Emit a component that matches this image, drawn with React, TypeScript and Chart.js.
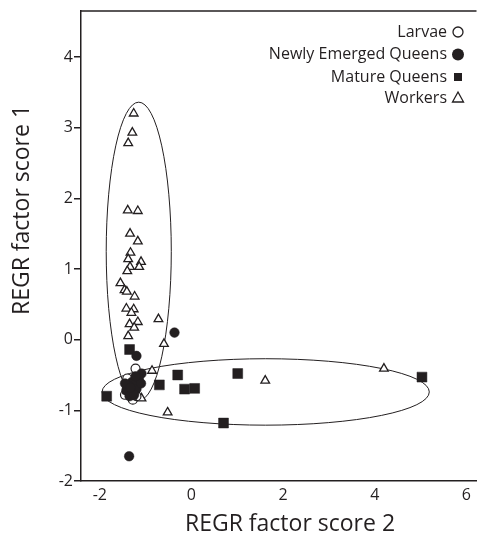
import React, { useEffect, useRef } from "react";
import { Chart, registerables } from "chart.js";

Chart.register(...registerables);

const xTickValues = [-2, 0, 2, 4, 6];
const yTickValues = [-2, -1, 0, 1, 2, 3, 4];

const seriesNames = ["Larvae", "Newly Emerged Queens", "Mature Queens", "Workers"];

const larvaeX = [-1.22, -1.28, -1.4, -1.15, -1.32, -1.45, -1.2];
const larvaeY = [-0.41, -0.85, -0.55, -0.62, -0.7, -0.78, -0.8];

const newQueensX = [-0.37, -1.2, -1.36, -1.09, -1.15, -1.3, -1.38, -1.42, -1.3, -1.2, -1.35, -1.25, -1.1, -1.45, -1.22, -1.33];
const newQueensY = [0.1, -0.23, -1.65, -0.48, -0.55, -0.6, -0.65, -0.72, -0.75, -0.7, -0.8, -0.78, -0.62, -0.62, -0.52, -0.68];

const matureQueensX = [-1.35, -1.85, -0.7, -0.3, -0.15, 0.07, 1.01, 0.7, 5.03, -1.4, -1.28, -1.3];
const matureQueensY = [-0.14, -0.8, -0.64, -0.5, -0.7, -0.69, -0.48, -1.18, -0.53, -0.7, -0.66, -0.78];

const workersX = [-1.26, -1.29, -1.38, -1.39, -1.17, -1.34, -1.17, -1.33, -1.38, -1.1, -1.34, -1.14, -1.4, -1.55, -1.46, -1.41, -1.24, -1.42, -1.26, -1.31, -1.17, -1.35, -1.25, -0.72, -1.38, -0.6, -0.86, -1.09, -0.52, 1.61, 4.2];
const workersY = [3.2, 2.93, 2.78, 1.83, 1.82, 1.5, 1.39, 1.23, 1.14, 1.1, 1.03, 1.03, 0.97, 0.8, 0.7, 0.68, 0.61, 0.44, 0.43, 0.38, 0.25, 0.22, 0.17, 0.29, 0.05, -0.06, -0.44, -0.83, -1.03, -0.58, -0.41];

const ellipseCenterX = [-1.15, 1.62];
const ellipseCenterY = [1.25, -0.74];
const ellipseRadiusX = [0.71, 3.57];
const ellipseRadiusY = [2.11, 0.47];

const xTitle = "REGR factor score 2";
const yTitle = "REGR factor score 1";

const INK = "#231f20";
const FONT = "'Open Sans', 'Noto Sans', sans-serif";

const toPoints = (xs: number[], ys: number[]) => xs.map((x, i) => ({ x, y: ys[i] }));

const extrasPlugin = {
  id: "extras",
  beforeDatasetsDraw(chart: any) {
    const { ctx, scales } = chart;
    const xs = scales.x;
    const ys = scales.y;
    ctx.save();
    ctx.strokeStyle = INK;
    ctx.lineWidth = 1;
    for (let i = 0; i < ellipseCenterX.length; i++) {
      const cx = xs.getPixelForValue(ellipseCenterX[i]);
      const cy = ys.getPixelForValue(ellipseCenterY[i]);
      const rx = Math.abs(xs.getPixelForValue(ellipseCenterX[i] + ellipseRadiusX[i]) - cx);
      const ry = Math.abs(ys.getPixelForValue(ellipseCenterY[i] + ellipseRadiusY[i]) - cy);
      ctx.beginPath();
      ctx.ellipse(cx, cy, rx, ry, 0, 0, Math.PI * 2);
      ctx.stroke();
    }
    ctx.restore();
  },
  afterDraw(chart: any) {
    const { ctx, chartArea } = chart;
    ctx.save();
    // top frame line
    ctx.strokeStyle = INK;
    ctx.lineWidth = 1.5;
    ctx.beginPath();
    ctx.moveTo(chartArea.left, chartArea.top);
    ctx.lineTo(chartArea.right, chartArea.top);
    ctx.stroke();

    // axis titles
    ctx.fillStyle = INK;
    ctx.font = `23px ${FONT}`;
    ctx.textAlign = "center";
    ctx.textBaseline = "middle";
    ctx.fillText(xTitle, 290, 524);
    ctx.save();
    ctx.translate(22, 210);
    ctx.rotate(-Math.PI / 2);
    ctx.fillText(yTitle, 0, 0);
    ctx.restore();

    // legend
    const rowY = [32, 54.5, 77, 98];
    const textRight = 447;
    const symX = 458;
    ctx.font = `16px ${FONT}`;
    ctx.textAlign = "right";
    ctx.textBaseline = "middle";
    seriesNames.forEach((name, i) => {
      const y = rowY[i];
      ctx.fillStyle = INK;
      ctx.fillText(name, textRight, y);
      ctx.lineWidth = 1.3;
      ctx.strokeStyle = INK;
      ctx.beginPath();
      if (i === 0) {
        ctx.arc(symX, y, 5, 0, Math.PI * 2);
        ctx.fillStyle = "#fff";
        ctx.fill();
        ctx.stroke();
      } else if (i === 1) {
        ctx.arc(symX, y, 6, 0, Math.PI * 2);
        ctx.fillStyle = INK;
        ctx.fill();
      } else if (i === 2) {
        ctx.fillStyle = INK;
        ctx.fillRect(symX - 4, y - 4, 8, 8);
      } else {
        ctx.moveTo(symX, y - 6);
        ctx.lineTo(symX + 5.5, y + 4);
        ctx.lineTo(symX - 5.5, y + 4);
        ctx.closePath();
        ctx.fillStyle = "#fff";
        ctx.fill();
        ctx.stroke();
      }
    });
    ctx.restore();
  },
};

export default function App() {
  const canvasRef = useRef<HTMLCanvasElement | null>(null);

  useEffect(() => {
    const canvas = canvasRef.current;
    if (!canvas) return;
    const chart = new Chart(canvas, {
      type: "scatter",
      data: {
        datasets: [
          {
            label: seriesNames[1],
            data: toPoints(newQueensX, newQueensY),
            pointStyle: "circle",
            pointRadius: 4.8,
            backgroundColor: INK,
            borderColor: INK,
            borderWidth: 0.5,
          },
          {
            label: seriesNames[2],
            data: toPoints(matureQueensX, matureQueensY),
            pointStyle: "rect",
            pointRadius: 7,
            backgroundColor: INK,
            borderColor: INK,
            borderWidth: 0.5,
          },
          {
            label: seriesNames[0],
            data: toPoints(larvaeX, larvaeY),
            pointStyle: "circle",
            pointRadius: 4.5,
            backgroundColor: "#fff",
            borderColor: INK,
            borderWidth: 1.2,
          },
          {
            label: seriesNames[3],
            data: toPoints(workersX, workersY),
            pointStyle: "triangle",
            pointRadius: 5,
            backgroundColor: "#fff",
            borderColor: INK,
            borderWidth: 1.3,
          },
        ],
      },
      options: {
        responsive: false,
        animation: false,
        events: [],
        layout: { padding: { top: 11, right: 6, left: 0, bottom: 0 } },
        plugins: {
          legend: { display: false },
          tooltip: { enabled: false },
        },
        scales: {
          x: {
            type: "linear",
            min: -2.41,
            max: 6.22,
            afterBuildTicks: (axis: any) => {
              axis.ticks = xTickValues.map((v) => ({ value: v }));
            },
            afterFit: (s: any) => {
              s.height = 55;
            },
            grid: { display: false, drawTicks: false },
            border: { display: true, color: INK, width: 1.5 },
            ticks: {
              color: INK,
              font: { family: FONT, size: 16 },
              padding: 5,
              maxRotation: 0,
              autoSkip: false,
            },
            title: { display: false },
          },
          y: {
            type: "linear",
            min: -2,
            max: 4.65,
            afterBuildTicks: (axis: any) => {
              axis.ticks = yTickValues.map((v) => ({ value: v }));
            },
            afterFit: (s: any) => {
              s.width = 81;
            },
            grid: {
              drawOnChartArea: false,
              drawTicks: true,
              tickLength: 7,
              color: INK,
              lineWidth: 1.5,
            },
            border: { display: true, color: INK, width: 1.5 },
            ticks: {
              color: INK,
              font: { family: FONT, size: 16 },
              padding: 1,
              autoSkip: false,
            },
            title: { display: false },
          },
        },
      },
      plugins: [extrasPlugin],
    });
    return () => chart.destroy();
  }, []);

  return (
    <div style={{ position: "absolute", left: 0, top: 0, width: 484, height: 536, background: "#fff" }}>
      <canvas ref={canvasRef} width={484} height={536} />
    </div>
  );
}
